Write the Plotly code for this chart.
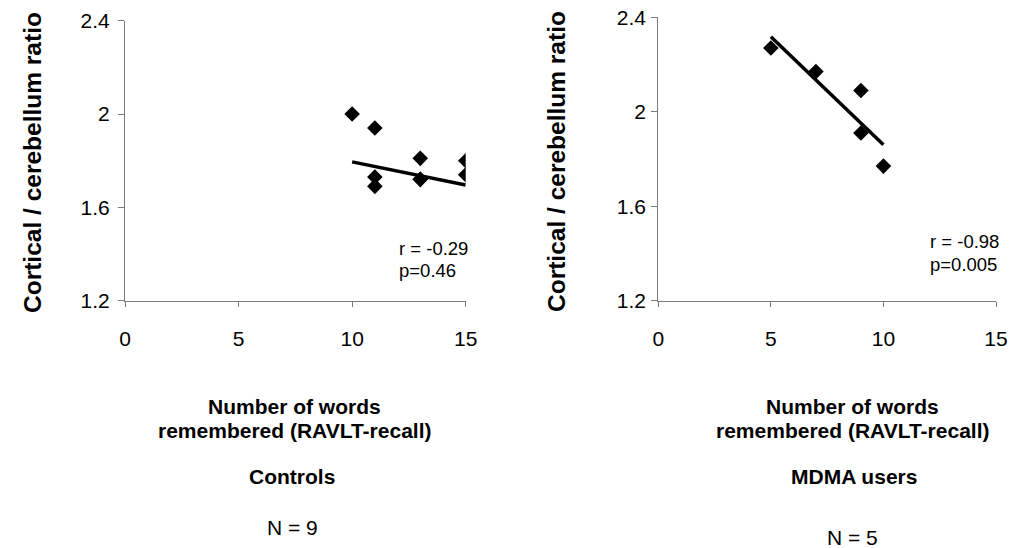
import plotly.graph_objects as go

W, H = 1009, 548

# ---- data ----
controls_words = [10, 11, 11, 11, 13, 13, 13, 15, 15]
controls_ratio = [2.00, 1.94, 1.73, 1.69, 1.81, 1.72, 1.72, 1.80, 1.74]
controls_trend_x = [10, 15]
controls_trend_y = [1.795, 1.696]

mdma_words = [5, 7, 9, 9, 10]
mdma_ratio = [2.27, 2.17, 2.09, 1.91, 1.77]
mdma_trend_x = [5, 10]
mdma_trend_y = [2.318, 1.860]

y_tickvals = [1.2, 1.6, 2.0, 2.4]
y_ticktext = ["1.2", "1.6", "2", "2.4"]
x_tickvals = [0, 5, 10, 15]
x_ticktext = ["0", "5", "10", "15"]

FONT = "Liberation Sans, Arial, sans-serif"
AXIS_COL = "#7a7a7a"

fig = go.Figure()

fig.add_trace(go.Scatter(x=controls_words, y=controls_ratio, mode="markers",
                         marker=dict(symbol="diamond", size=12, color="black"),
                         xaxis="x", yaxis="y", showlegend=False))
fig.add_trace(go.Scatter(x=controls_trend_x, y=controls_trend_y, mode="lines",
                         line=dict(color="black", width=3.5),
                         xaxis="x", yaxis="y", showlegend=False))
fig.add_trace(go.Scatter(x=mdma_words, y=mdma_ratio, mode="markers",
                         marker=dict(symbol="diamond", size=12, color="black"),
                         xaxis="x2", yaxis="y2", showlegend=False))
fig.add_trace(go.Scatter(x=mdma_trend_x, y=mdma_trend_y, mode="lines",
                         line=dict(color="black", width=3.5),
                         xaxis="x2", yaxis="y2", showlegend=False))


def xax(domain, anchor):
    return dict(domain=domain, anchor=anchor, range=[0, 15], tickvals=x_tickvals,
                ticktext=x_ticktext, showgrid=False, zeroline=False, showline=True,
                linecolor=AXIS_COL, linewidth=1.2, ticks="outside", ticklen=5,
                tickcolor=AXIS_COL, tickwidth=1.2, automargin=False,
                ticklabeloverflow="allow",
                tickfont=dict(family=FONT, size=21, color="black"),
                ticklabelstandoff=14, fixedrange=True)


def yax(domain, anchor, standoff):
    return dict(domain=domain, anchor=anchor, range=[1.2, 2.4], tickvals=y_tickvals,
                ticktext=y_ticktext, showgrid=False, zeroline=False, showline=True,
                linecolor=AXIS_COL, linewidth=1.2, ticks="outside", ticklen=6,
                tickcolor=AXIS_COL, tickwidth=1.2, automargin=False,
                ticklabeloverflow="allow",
                tickfont=dict(family=FONT, size=21, color="black"),
                ticklabelstandoff=standoff, fixedrange=True)


def px_x(v):
    return v / W


def px_y(v):
    return 1 - v / H


fig.update_layout(
    width=W, height=H,
    margin=dict(l=0, r=0, t=0, b=0, pad=0, autoexpand=False),
    paper_bgcolor="white", plot_bgcolor="white",
    xaxis=xax([px_x(125), px_x(465.7)], "y"),
    yaxis=yax([px_y(300.7), px_y(20.7)], "x", 4),
    xaxis2=xax([px_x(658.3), px_x(996)], "y2"),
    yaxis2=yax([px_y(300.7), px_y(17.3)], "x2", 1),
)

annots = [
    # y titles
    dict(text="<b>Cortical / cerebellum ratio</b>", x=32, y=163, size=24.5, angle=-90),
    dict(text="<b>Cortical / cerebellum ratio</b>", x=556, y=162, size=24.5, angle=-90),
    # x titles
    dict(text="<b>Number of words</b>", x=294, y=406, size=21),
    dict(text="<b>remembered (RAVLT-recall)</b>", x=294, y=430, size=21),
    dict(text="<b>Number of words</b>", x=852, y=406, size=21),
    dict(text="<b>remembered (RAVLT-recall)</b>", x=852, y=430, size=21),
    dict(text="<b>Controls</b>", x=292, y=476, size=21),
    dict(text="<b>MDMA users</b>", x=854, y=476.5, size=21),
    dict(text="N = 9", x=292.5, y=527.5, size=21),
    dict(text="N = 5", x=852, y=537, size=21),
]
for a in annots:
    fig.add_annotation(text=a["text"], xref="paper", yref="paper",
                       x=px_x(a["x"]), y=px_y(a["y"]), xanchor="center", yanchor="middle",
                       textangle=a.get("angle", 0), showarrow=False,
                       font=dict(family=FONT, size=a["size"], color="black"))

stats = [
    ("r = -0.29", 397, 248), ("p=0.46", 397, 270),
    ("r = -0.98", 928, 241), ("p=0.005", 928, 264),
]
for t, x, y in stats:
    fig.add_annotation(text=t, xref="paper", yref="paper", x=px_x(x), y=px_y(y),
                       xanchor="left", yanchor="middle", showarrow=False,
                       font=dict(family=FONT, size=18.5, color="black"))

fig.write_html(
    "out.html",
    config={"displayModeBar": False},
    post_script="document.body.style.margin='0';document.body.style.overflow='hidden';",
)
